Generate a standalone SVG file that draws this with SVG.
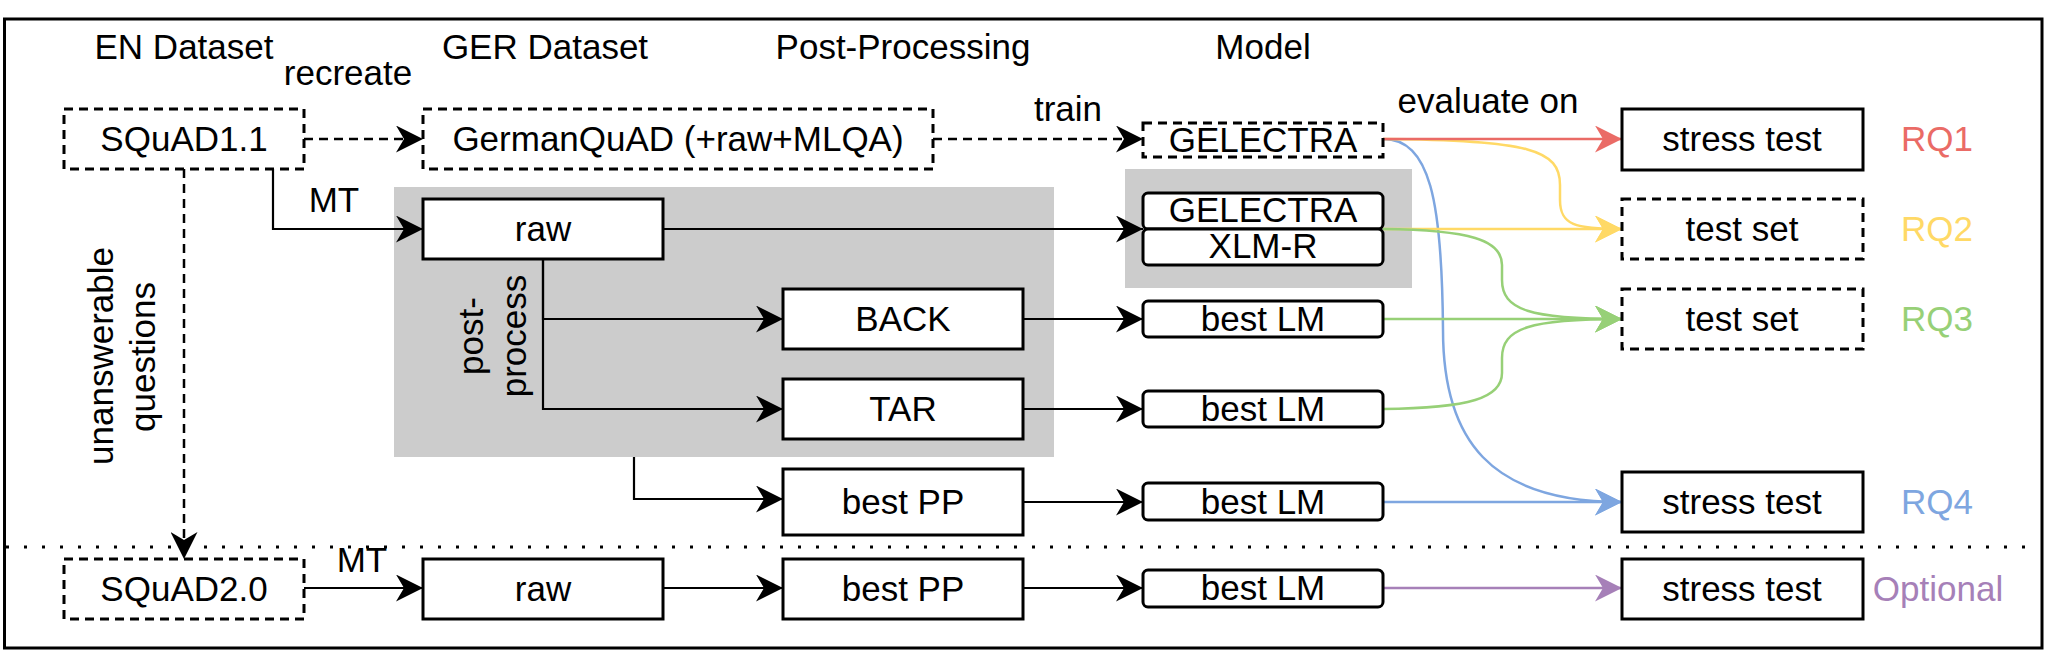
<svg xmlns="http://www.w3.org/2000/svg" width="2050" height="663" viewBox="0 0 2050 663">
<style>
text{font-family:"Liberation Sans",Arial,Helvetica,sans-serif;font-size:35px;fill:#000;text-anchor:middle}
.box{fill:#fff;stroke:#000;stroke-width:3}
.dbox{fill:#fff;stroke:#000;stroke-width:3;stroke-dasharray:9 6}
.grp{fill:#cccccc;stroke:none}
.ln{fill:none;stroke:#000;stroke-width:2.2}
.dl{fill:none;stroke:#000;stroke-width:2.5;stroke-dasharray:9 6}
.c{fill:none;stroke-width:2.5}
</style>
<defs>
<marker id="ak" viewBox="0 0 27 27" refX="27" refY="13.5" markerWidth="27" markerHeight="27" markerUnits="userSpaceOnUse" orient="auto"><path d="M0,0 L27,13.5 L0,27 L8,13.5 Z" fill="#000"/></marker>
<marker id="ar" viewBox="0 0 27 27" refX="27" refY="13.5" markerWidth="27" markerHeight="27" markerUnits="userSpaceOnUse" orient="auto"><path d="M0,0 L27,13.5 L0,27 L8,13.5 Z" fill="#EA6B66"/></marker>
<marker id="ay" viewBox="0 0 27 27" refX="27" refY="13.5" markerWidth="27" markerHeight="27" markerUnits="userSpaceOnUse" orient="auto"><path d="M0,0 L27,13.5 L0,27 L8,13.5 Z" fill="#FFD966"/></marker>
<marker id="ag" viewBox="0 0 27 27" refX="27" refY="13.5" markerWidth="27" markerHeight="27" markerUnits="userSpaceOnUse" orient="auto"><path d="M0,0 L27,13.5 L0,27 L8,13.5 Z" fill="#97D077"/></marker>
<marker id="ab" viewBox="0 0 27 27" refX="27" refY="13.5" markerWidth="27" markerHeight="27" markerUnits="userSpaceOnUse" orient="auto"><path d="M0,0 L27,13.5 L0,27 L8,13.5 Z" fill="#7EA6E0"/></marker>
<marker id="ap" viewBox="0 0 27 27" refX="27" refY="13.5" markerWidth="27" markerHeight="27" markerUnits="userSpaceOnUse" orient="auto"><path d="M0,0 L27,13.5 L0,27 L8,13.5 Z" fill="#A680B8"/></marker>
</defs>
<rect width="2050" height="663" fill="#fff"/>
<rect id="frame" x="4.5" y="19" width="2037.5" height="629" fill="none" stroke="#000" stroke-width="3"/>
<line id="divider" x1="6" y1="547" x2="2040" y2="547" stroke="#000" stroke-width="3" stroke-dasharray="3 15"/>

<g id="headers">
<text x="184" y="59">EN Dataset</text>
<text x="545" y="59">GER Dataset</text>
<text x="903" y="59">Post-Processing</text>
<text x="1263" y="59">Model</text>
</g>

<g id="group-pp"><rect class="grp" x="394" y="187" width="660" height="270"/></g>
<g id="group-models"><rect class="grp" x="1125" y="169" width="287" height="119"/></g>

<g id="connectors">
<path class="dl" d="M304,139 L423,139" marker-end="url(#ak)"/>
<path class="dl" d="M933,139 L1143,139" marker-end="url(#ak)"/>
<path class="ln" d="M273,169 L273,229 L423,229" marker-end="url(#ak)"/>
<path class="dl" d="M184,169 L184,559" marker-end="url(#ak)"/>
<path class="ln" d="M664,229 L1143,229" marker-end="url(#ak)"/>
<path class="ln" d="M543,259 L543,319 L783,319" marker-end="url(#ak)"/>
<path class="ln" d="M543,259 L543,409 L783,409" marker-end="url(#ak)"/>
<path class="ln" d="M634,457 L634,499 L783,499" marker-end="url(#ak)"/>
<path class="ln" d="M1023,319 L1143,319" marker-end="url(#ak)"/>
<path class="ln" d="M1023,409 L1143,409" marker-end="url(#ak)"/>
<path class="ln" d="M1023,502 L1143,502" marker-end="url(#ak)"/>
<path class="ln" d="M304,588 L423,588" marker-end="url(#ak)"/>
<path class="ln" d="M663,588 L783,588" marker-end="url(#ak)"/>
<path class="ln" d="M1023,588 L1143,588" marker-end="url(#ak)"/>
<path class="c" stroke="#7EA6E0" d="M1383,139 C1430,139 1442,200 1443,330 C1443,440 1490,502 1622,502" marker-end="url(#ab)"/>
<path class="c" stroke="#FFD966" d="M1383,139 C1530,140 1560,150 1560,185 L1560,200 C1560,225 1575,229 1622,229" marker-end="url(#ay)"/>
<path class="c" stroke="#EA6B66" d="M1383,139 L1622,139" marker-end="url(#ar)"/>
<path class="c" stroke="#FFD966" d="M1383,229 L1622,229" marker-end="url(#ay)"/>
<path class="c" stroke="#97D077" d="M1383,229 C1470,230 1502,240 1502,265 L1502,280 C1502,310 1530,319 1622,319" marker-end="url(#ag)"/>
<path class="c" stroke="#97D077" d="M1383,319 L1622,319" marker-end="url(#ag)"/>
<path class="c" stroke="#97D077" d="M1383,409 C1470,408 1502,398 1502,373 L1502,358 C1502,328 1530,319 1622,319" marker-end="url(#ag)"/>
<path class="c" stroke="#7EA6E0" d="M1383,502 L1622,502" marker-end="url(#ab)"/>
<path class="c" stroke="#A680B8" d="M1383,588 L1622,588" marker-end="url(#ap)"/>
</g>

<g id="edge-labels">
<text x="348" y="85">recreate</text>
<text x="1068" y="121">train</text>
<text x="1488" y="113">evaluate on</text>
<text x="334" y="212">MT</text>
<text x="362" y="572">MT</text>
<text transform="rotate(-90)" x="-356" y="113">unanswerable</text>
<text transform="rotate(-90)" x="-357" y="155">questions</text>
<text transform="rotate(-90)" x="-336" y="483">post-</text>
<text transform="rotate(-90)" x="-336" y="526">process</text>
</g>

<g id="squad11"><rect class="dbox" x="64" y="109" width="240" height="60"/><text x="184" y="151">SQuAD1.1</text></g>
<g id="germanquad"><rect class="dbox" x="423" y="109" width="510" height="60"/><text x="678" y="151">GermanQuAD (+raw+MLQA)</text></g>
<g id="gelectra-dashed"><rect class="dbox" x="1143" y="123" width="240" height="34"/><text x="1263" y="152">GELECTRA</text></g>
<g id="raw1"><rect class="box" x="423" y="199" width="240" height="60"/><text x="543" y="241">raw</text></g>
<g id="gelectra"><rect class="box" x="1143" y="193" width="240" height="36" rx="5"/><text x="1263" y="222">GELECTRA</text></g>
<g id="xlmr"><rect class="box" x="1143" y="229" width="240" height="36" rx="5"/><text x="1263" y="258">XLM-R</text></g>
<g id="back"><rect class="box" x="783" y="289" width="240" height="60"/><text x="903" y="331">BACK</text></g>
<g id="tar"><rect class="box" x="783" y="379" width="240" height="60"/><text x="903" y="421">TAR</text></g>
<g id="bestpp1"><rect class="box" x="783" y="469" width="240" height="66"/><text x="903" y="514">best PP</text></g>
<g id="bestlm-back"><rect class="box" x="1143" y="301" width="240" height="36" rx="5"/><text x="1263" y="331">best LM</text></g>
<g id="bestlm-tar"><rect class="box" x="1143" y="391" width="240" height="36" rx="5"/><text x="1263" y="421">best LM</text></g>
<g id="bestlm-pp"><rect class="box" x="1143" y="483" width="240" height="37" rx="5"/><text x="1263" y="514">best LM</text></g>
<g id="squad20"><rect class="dbox" x="64" y="559" width="240" height="60"/><text x="184" y="601">SQuAD2.0</text></g>
<g id="raw2"><rect class="box" x="423" y="559" width="240" height="60"/><text x="543" y="601">raw</text></g>
<g id="bestpp2"><rect class="box" x="783" y="559" width="240" height="60"/><text x="903" y="601">best PP</text></g>
<g id="bestlm2"><rect class="box" x="1143" y="570" width="240" height="37" rx="5"/><text x="1263" y="600">best LM</text></g>
<g id="stress1"><rect class="box" x="1622" y="109" width="241" height="61"/><text x="1742" y="151">stress test</text></g>
<g id="testset2"><rect class="dbox" x="1622" y="199" width="241" height="60"/><text x="1742" y="241">test set</text></g>
<g id="testset3"><rect class="dbox" x="1622" y="289" width="241" height="60"/><text x="1742" y="331">test set</text></g>
<g id="stress4"><rect class="box" x="1622" y="472" width="241" height="60"/><text x="1742" y="514">stress test</text></g>
<g id="stress5"><rect class="box" x="1622" y="559" width="241" height="60"/><text x="1742" y="601">stress test</text></g>
<g id="rq-labels">
<text x="1937" y="151" style="fill:#EA6B66">RQ1</text>
<text x="1937" y="241" style="fill:#FFD966">RQ2</text>
<text x="1937" y="331" style="fill:#97D077">RQ3</text>
<text x="1937" y="514" style="fill:#7EA6E0">RQ4</text>
<text x="1938" y="601" style="fill:#A680B8">Optional</text>
</g>
</svg>
